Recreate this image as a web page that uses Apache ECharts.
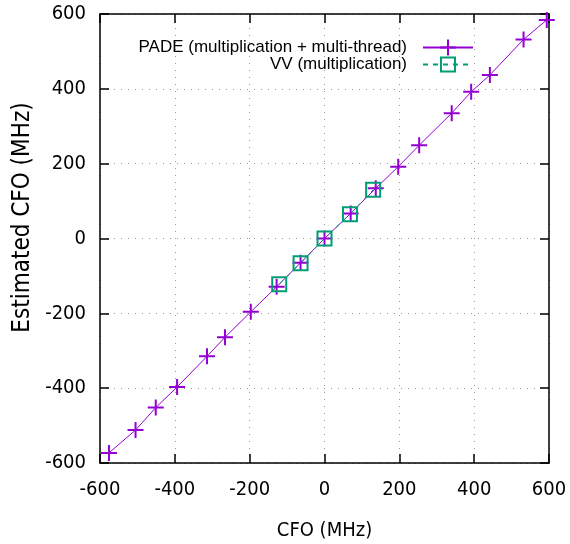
<!DOCTYPE html>
<html>
<head>
<meta charset="utf-8">
<script src="https://cdn.jsdelivr.net/npm/echarts@6/dist/echarts.min.js"></script>
<style>html,body{margin:0;padding:0;background:#fff;}#c{width:570px;height:544px;}</style>
</head>
<body>
<div id="c"></div>
<script>
var padeX = [-576, -505, -451, -394, -314, -266, -197, -128, -64, 0, 70, 137, 197, 253, 340, 392, 442, 532, 594];
var padeY = [-573, -512, -452, -397, -315, -264, -196, -129, -65, 0, 67, 134, 192, 249, 335, 392, 437, 532, 584];
var vvX = [-121, -64, 0, 68, 130];
var vvY = [-122, -66, 0, 65, 130];
var axisTicks = [-600, -400, -200, 0, 200, 400, 600];
var seriesNames = ['PADE (multiplication + multi-thread)', 'VV (multiplication)'];
var xTitle = 'CFO (MHz)';
var yTitle = 'Estimated CFO (MHz)';

function pairs(xs, ys) { return xs.map(function (x, i) { return [x, ys[i]]; }); }

var tickFont = "'DejaVu Sans Condensed', 'DejaVu Sans', sans-serif";
var purple = '#9400d3';
var teal = '#009e73';
var plusPath = 'path://M7,0L9,0L9,16L7,16Z M0,7L16,7L16,9L0,9Z';
var boxPath = 'path://M0,0L16,0L16,16L0,16Z M2,2L2,14L14,14L14,2Z';

function baseAxis(pos, show, margin) {
  return {
    type: 'value', position: pos, min: -600, max: 600, interval: 200,
    axisLine: { show: true, onZero: false, lineStyle: { color: '#000', width: 1.5 } },
    axisTick: { show: true, inside: true, length: 9, lineStyle: { color: '#000', width: 1.5 } },
    axisLabel: { show: show, color: '#000', fontFamily: tickFont, fontSize: 20, margin: margin,
      formatter: function (v) { return axisTicks.indexOf(v) >= 0 ? String(v) : ''; } },
    splitLine: { show: show, lineStyle: { color: '#9a9a9a', width: 1, type: [1, 6] } }
  };
}

var x0 = baseAxis('bottom', true, 17);
x0.name = xTitle; x0.nameLocation = 'middle'; x0.nameGap = 58;
x0.nameTextStyle = { color: '#000', fontFamily: tickFont, fontSize: 20 };
var x1 = baseAxis('top', false, 14);
var y0 = baseAxis('left', true, 14);
y0.name = yTitle; y0.nameLocation = 'middle'; y0.nameGap = 65; y0.nameRotate = 90;
y0.nameTextStyle = { color: '#000', fontFamily: tickFont, fontSize: 24, padding: [0, 0, 0, 42] };
var y1 = baseAxis('right', false, 14);

var legendText = { color: '#000', fontFamily: "'Liberation Sans', Arial, sans-serif", fontSize: 17, padding: [0, 11, 0, 0] };

var option = {
  animation: false,
  backgroundColor: '#fff',
  grid: { left: 100, right: 21, top: 14, bottom: 81, containLabel: false, outerBoundsMode: 'none' },
  xAxis: [x0, x1],
  yAxis: [y0, y1],
  legend: [
    { data: [seriesNames[0]], right: 91, top: 34, align: 'right', itemWidth: 50, itemHeight: 20, textStyle: legendText },
    { data: [seriesNames[1]], right: 91, top: 51, align: 'right', itemWidth: 50, itemHeight: 20, textStyle: legendText }
  ],
  series: [
    {
      name: seriesNames[0], type: 'line', data: pairs(padeX, padeY),
      symbol: plusPath, symbolSize: 16, showAllSymbol: true,
      lineStyle: { color: purple, width: 1 },
      itemStyle: { color: purple }
    },
    {
      name: seriesNames[1], type: 'line', data: pairs(vvX, vvY),
      symbol: boxPath, symbolSize: 16, showAllSymbol: true,
      lineStyle: { color: teal, width: 1, type: [5, 5] },
      itemStyle: { color: teal }
    }
  ]
};

var chart = echarts.init(document.getElementById('c'), null, { renderer: 'canvas' });
chart.setOption(option);
</script>
</body>
</html>
